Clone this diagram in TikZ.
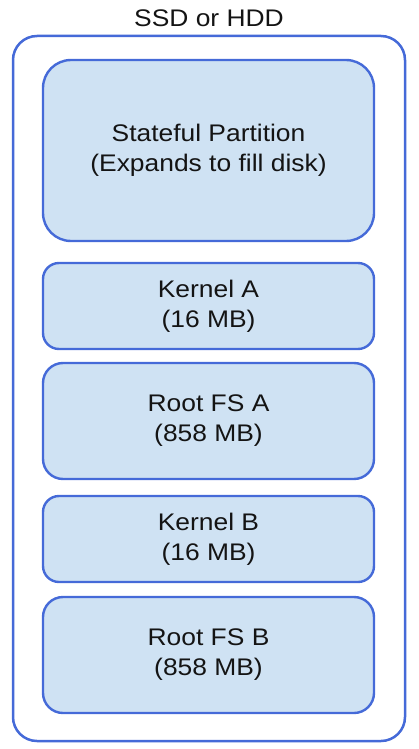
\documentclass[tikz,border=0pt]{standalone}
\usepackage{fontspec}
\setmainfont{Liberation Sans}[FakeStretch=1.1]
\usepackage{tikz}

\definecolor{partline}{HTML}{456AD8}
\definecolor{partfill}{HTML}{CFE2F3}

\tikzset{
  partfont/.style={font=\fontsize{24}{30}\selectfont, text=black!92},
  part/.style={draw=partline, fill=partfill, line width=2.4pt, rounded corners=16pt,
    minimum width=331pt, inner sep=0pt, align=center, partfont},
}

\begin{document}
\begin{tikzpicture}[x=1pt, y=-1pt]
  \useasboundingbox (0,0) rectangle (419,749);

  % Disk outline
  \node[draw=partline, line width=2.5pt, rounded corners=24pt, minimum width=392pt,
    minimum height=705pt, inner sep=0pt] (disk) at (209, 388.5) {};
  \node[anchor=base, partfont] (title) at (209, 27) {SSD or HDD};

  % Partitions
  \node[part, rounded corners=28pt, minimum height=181pt] (state) at (208.5, 150.5)
    {Stateful Partition\\(Expands to fill disk)};
  \node[part, minimum height=86pt] (kernA) at (208.5, 306) {Kernel A\\(16 MB)};
  \node[part, rounded corners=20pt, minimum height=116pt] (rootA) at (208.5, 421) {Root FS A\\(858 MB)};
  \node[part, minimum height=86pt] (kernB) at (208.5, 539) {Kernel B\\(16 MB)};
  \node[part, rounded corners=20pt, minimum height=116pt] (rootB) at (208.5, 655) {Root FS B\\(858 MB)};
\end{tikzpicture}
\end{document}
